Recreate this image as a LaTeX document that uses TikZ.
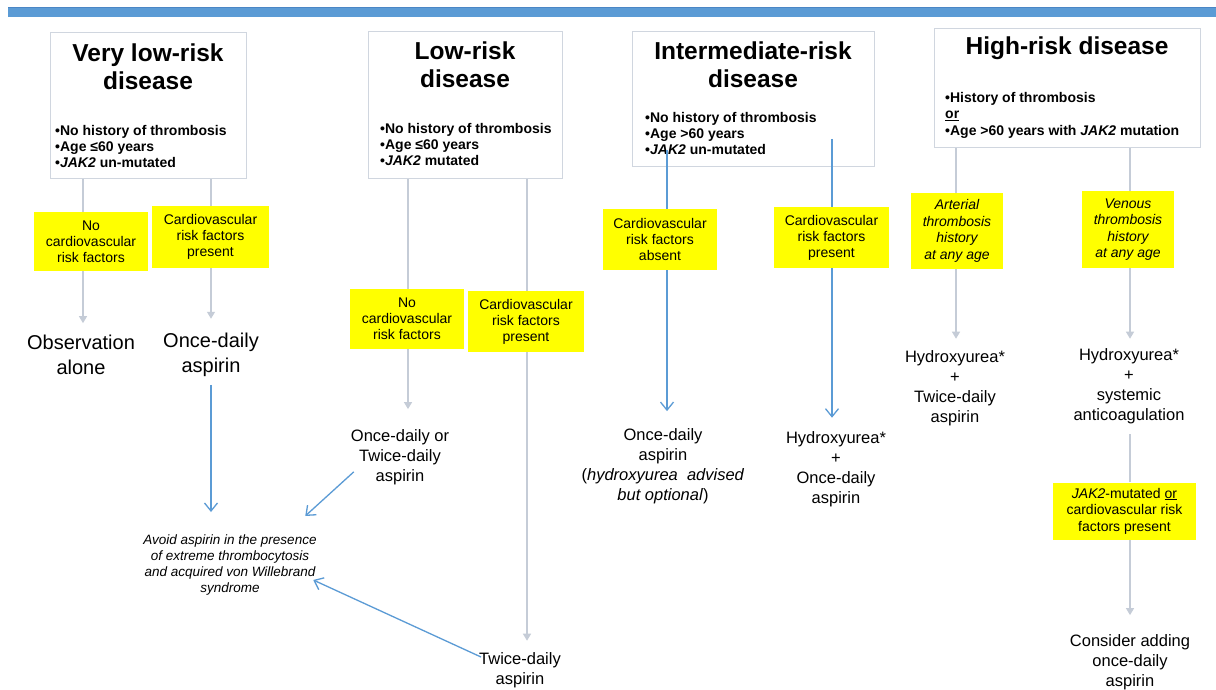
\documentclass[tikz,border=0pt]{standalone}
\usepackage{fontspec}
\setmainfont{Liberation Sans}
\usetikzlibrary{arrows.meta,calc}
\definecolor{hdrbar}{HTML}{5B9BD5}
\definecolor{hdredge}{HTML}{4A86C5}
\definecolor{boxline}{HTML}{D0D6DF}
\definecolor{conngray}{HTML}{C5CCD7}
\definecolor{connblue}{HTML}{5B9BD5}
\definecolor{hiyellow}{HTML}{FFFF00}
\tikzset{
 riskbox/.style={draw=boxline, line width=1.2pt, fill=white, inner sep=0, anchor=north west},
 titletext/.style={font=\fontsize{24.5}{28}\selectfont\bfseries, align=center, inner sep=0},
 bullettext/.style={font=\fontsize{14}{16}\selectfont\bfseries, align=left, inner sep=0, anchor=west},
 yellowbox/.style={fill=hiyellow, inner sep=0, align=center, font=\fontsize{14}{16}\selectfont},
 yellowit/.style={yellowbox, font=\fontsize{14}{16.5}\selectfont\itshape},
 resulttext/.style={font=\fontsize{16.5}{20}\selectfont, align=center, inner sep=0},
 bigresult/.style={font=\fontsize{20}{25}\selectfont, align=center, inner sep=0},
 notetext/.style={font=\fontsize{13.5}{16}\selectfont\itshape, align=center, inner sep=0},
 grayline/.style={draw=conngray, line width=1.3pt},
 grayarrow/.style={grayline, -{Triangle[width=8pt,length=7pt]}},
 blueline/.style={draw=connblue, line width=1.3pt},
 bluearrow/.style={blueline, -{Straight Barb[length=8pt,width=13pt]}},
}
\begin{document}
\begin{tikzpicture}[x=1pt,y=-1pt]
\useasboundingbox (0,0) rectangle (1216,690);
\fill[white] (0,0) rectangle (1216,690);
% top bar
\fill[hdrbar] (8,7) rectangle (1216,17);
\draw[hdredge, line width=0.8pt] (8,7) -- (1216,7);

% header boxes
\node[riskbox, minimum width=196pt, minimum height=146pt] (b1) at (50,32) {};
\node[riskbox, minimum width=194pt, minimum height=147pt] (b2) at (368,31) {};
\node[riskbox, minimum width=242pt, minimum height=135pt] (b3) at (632,31) {};
\node[riskbox, minimum width=266pt, minimum height=119pt] (b4) at (934,28) {};

\node[titletext] (t1) at (148,67) {Very low-risk\\disease};
\node[titletext] (t2) at (465,65) {Low-risk\\disease};
\node[titletext] (t3) at (753,65) {Intermediate-risk\\disease};
\node[titletext] (t4) at (1067,48.7) {High-risk disease};

\node[bullettext] (l1) at (55,146) {•No history of thrombosis\\•Age ≤60 years\\•\textit{JAK2} un-mutated};
\node[bullettext] (l2) at (380,144.4) {•No history of thrombosis\\•Age ≤60 years\\•\textit{JAK2} mutated};
\node[bullettext] (l3) at (645,133) {•No history of thrombosis\\•Age >60 years\\•\textit{JAK2} un-mutated};
\node[bullettext, font=\fontsize{14}{16.5}\selectfont\bfseries] (l4) at (945,115) {•History of thrombosis\\\underline{or}\\•Age >60 years with \textit{JAK2} mutation};

% yellow condition boxes
\node[yellowbox, minimum width=114pt, minimum height=59pt] (y1a) at (91,241.5) {No\\cardiovascular\\risk factors};
\node[yellowbox, minimum width=117pt, minimum height=62pt] (y1b) at (210.5,237) {Cardiovascular\\risk factors\\present};
\node[yellowbox, minimum width=114pt, minimum height=60pt] (y2a) at (407,319) {No\\cardiovascular\\risk factors};
\node[yellowbox, minimum width=116pt, minimum height=61pt] (y2b) at (526,321.5) {Cardiovascular\\risk factors\\present};
\node[yellowbox, minimum width=114pt, minimum height=61pt] (y3a) at (660,239.5) {Cardiovascular\\risk factors\\absent};
\node[yellowbox, minimum width=115pt, minimum height=61pt] (y3b) at (831.5,237.5) {Cardiovascular\\risk factors\\present};
\node[yellowit, minimum width=92pt, minimum height=76pt] (y4a) at (957,231) {Arterial\\thrombosis\\history\\at any age};
\node[yellowit, minimum width=92pt, minimum height=77pt] (y4b) at (1128,229.5) {Venous\\thrombosis\\history\\at any age};
\node[yellowbox, font=\fontsize{14}{16.5}\selectfont, minimum width=143pt, minimum height=57pt] (y4c) at (1124.5,511) {\textit{JAK2}-mutated \underline{or}\\cardiovascular risk\\factors present};

% outcomes
\node[bigresult] (r1) at (81,355.2) {Observation\\alone};
\node[bigresult] (r2) at (211,354.8) {Once-daily\\aspirin};
\node[resulttext] (r3) at (400,457) {Once-daily or\\Twice-daily\\aspirin};
\node[resulttext] (r4) at (520,670.6) {Twice-daily\\aspirin};
\node[notetext] (note) at (230,565.5) {Avoid aspirin in the presence\\of extreme thrombocytosis\\and acquired von Willebrand\\syndrome};
\node[resulttext] (r5) at (663,466) {Once-daily\\aspirin\\(\textit{hydroxyurea\ \ advised}\\\textit{but optional})};
\node[resulttext] (r6) at (836,469.6) {Hydroxyurea*\\+\\Once-daily\\aspirin};
\node[resulttext] (r7) at (955,388.6) {Hydroxyurea*\\+\\Twice-daily\\aspirin};
\node[resulttext] (r8) at (1129,386.6) {Hydroxyurea*\\+\\systemic\\anticoagulation};
\node[resulttext] (r9) at (1130,662) {Consider adding\\once-daily\\aspirin};

% column coordinates
\coordinate (cA) at (83,0);
\coordinate (cB) at (211,0);
\coordinate (cC) at (408,0);
\coordinate (cD) at (527,0);
\coordinate (cE) at (667,150);
\coordinate (cF) at (832,139);
\coordinate (cG) at (956,0);
\coordinate (cH) at (1130,0);

% connectors
\draw[grayline] (b1.south -| cA) -- (y1a.north -| cA);
\draw[grayarrow, shorten >=12pt] (y1a.south -| cA) -- (r1.north -| cA);
\draw[grayline] (b1.south -| cB) -- (y1b.north -| cB);
\draw[grayarrow, shorten >=14pt] (y1b.south -| cB) -- (r2.north -| cB);
\draw[bluearrow, shorten <=8pt, shorten >=23pt] (r2.south -| cB) -- (note.north -| cB);
\draw[grayline] (b2.south -| cC) -- (y2a.north -| cC);
\draw[grayarrow, shorten >=20pt] (y2a.south -| cC) -- (r3.north -| cC);
\draw[grayline] (b2.south -| cD) -- (y2b.north -| cD);
\draw[grayarrow, shorten >=12pt] (y2b.south -| cD) -- (r4.north -| cD);
\draw[bluearrow] ($(r3.south west)+(3,-13)$) -- ($(note.north east)+(-11.5,-19)$);
\draw[bluearrow] ($(r4.west)+(2,-13.6)$) -- ($(note.east)+(-3.5,14.5)$);
\draw[blueline] (cE) -- (y3a.north -| cE);
\draw[bluearrow, shorten >=17pt] (y3a.south -| cE) -- (r5.north -| cE);
\draw[blueline] (cF) -- (y3b.north -| cF);
\draw[bluearrow, shorten >=14pt] (y3b.south -| cF) -- (r6.north -| cF);
\draw[grayline] (b4.south -| cG) -- (y4a.north -| cG);
\draw[grayarrow, shorten >=12pt] (y4a.south -| cG) -- (r7.north -| cG);
\draw[grayline] (b4.south -| cH) -- (y4b.north -| cH);
\draw[grayarrow, shorten >=10pt] (y4b.south -| cH) -- (r8.north -| cH);
\draw[grayline, shorten <=10pt] (r8.south -| cH) -- (y4c.north -| cH);
\draw[grayarrow, shorten >=19pt] (y4c.south -| cH) -- (r9.north -| cH);
\end{tikzpicture}
\end{document}
